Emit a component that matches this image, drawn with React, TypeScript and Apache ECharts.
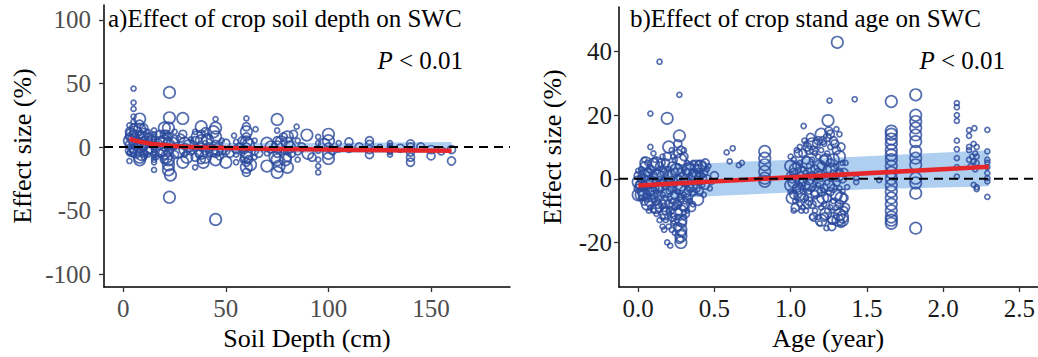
import React, { useEffect, useRef } from "react";
import * as echarts from "echarts";

const FONT = "'Liberation Serif', 'Times New Roman', Times, serif";

// ---------- Panel a: soil depth ----------
// [depth (cm), effect size (%), weight class]
const depthPoints: number[][] = [
  [3,17,1],[3,12,2],[3,8,2],[3,5,3],[3,2,2],[3,0,1],[3,-3,2],[3,-5,1],[3,-11,1],
  [5,46,1],[5,35,1],[5,30,1],[5,24,1],[5,20,1],[5,15,2],[5,10,2],[5,6,3],[5,2,2],[5,-2,2],[5,-6,1],
  [8,22,3],[8,18,2],[8,14,3],[8,10,2],[8,7,3],[8,4,2],[8,0,3],[8,-4,2],[8,-8,3],[8,-10,3],
  [10,15,2],[10,10,3],[10,5,2],[10,0,2],[10,-5,2],[10,-8,1],
  [12,12,1],[12,8,2],[12,3,1],[12,-3,2],[12,-6,1],
  [15,13,1],[15,10,1],[15,8,1],[15,6,1],[15,4,1],[15,2,1],[15,0,1],[15,-2,1],[15,-4,1],[15,-6,1],[15,-8,1],[15,-10,1],[15,-12,1],[15,-18,1],
  [18,10,2],[18,5,2],[18,0,1],[18,-5,2],
  [20,15,3],[20,10,2],[20,5,3],[20,0,2],[20,-5,3],[20,-10,2],
  [22.5,43,3],[22.5,23,3],[22,15,3],[22,8,2],[22,2,3],[22,-4,2],[22,-10,3],[22,-14,3],[22,-18,3],[22.5,-39.5,3],
  [25,12,1],[25,6,2],[25,0,1],[25,-6,2],
  [29,22.5,3],[29,10,2],[30,3,3],[30,-2,3],[29,-12,3],[30,-6,1],
  [33,6,1],[33,-3,2],
  [35,12,1],[35,5,2],[35,-2,1],[35,-8,2],[35,-16,1],
  [38,16,3],[38,10,2],[38,5,3],[38,0,2],[38,-5,3],[38,-10,2],
  [40,12,2],[40,3,1],[40,-3,2],[40,-8,3],
  [42,8,1],[42,0,2],[42,-6,1],
  [45,22,1],[45,15,3],[45,8,3],[45,2,2],[45,-5,2],[45,-10,3],[45,-57,3],
  [48,5,1],[48,-3,2],
  [50,3,2],[50,-3,2],[50,-12,3],
  [54,9,1],[55,4,1],[55,-2,2],[55,-6,1],[55,-12,1],
  [58,5,2],[58,-5,1],[58,-10,1],
  [60,22.5,1],[60,16,2],[60,12,3],[60,8,2],[60,4,3],[60,0,2],[60,-4,3],[60,-8,3],[60,-12,2],[60,-16,3],[60,-20,2],
  [64.5,14,1],[64,5,1],[64,-3,2],[64,-8,1],
  [70,3,3],[70,-5,1],[70,-15,3],
  [75,21.7,3],[75,13,1],[75,5,2],[75,0,3],[75,-5,2],[75,-10,3],[75,-20,3],
  [78,8,2],[78,-3,1],
  [80,8,3],[80,3,3],[80,-3,2],[80,-8,2],[80,-16,3],
  [84.5,16,1],[85,5,1],[85,-3,2],[85,-10,1],
  [89.5,9.4,3],[90,-5,3],
  [95,8,1],[95,3,1],[95,-3,1],[95,-10,1],[95,-15,1],[95,-20,1],
  [100,10,3],[100,5,3],[100,0,2],[100,-5,3],[100,-9,3],
  [105,3,1],[105,-2,1],
  [110,4,2],[110,-1,2],
  [120,5,2],[120,2,2],[120,-2,2],[120,-6,2],
  [125,0,1],
  [130,3,1],[130,1,1],[130,0,1],[130,-1,1],[130,-2,1],[130,-3,1],[130,-4,1],[130,-6,1],
  [140,2.5,2],[140,0,2],[140,-4,2],[140,-8,2],[140,-12,2],
  [150,-2,2],[150,-7,2],
  [160,-2,2],[160,-11,2],
  [4,10,3],[4,-4,2],[6,12,3],[6,-4,3],[7,3,3],[9,8,3],[9,-6,3],[11,4,3],[13,-2,2],[14,6,2],[16,-8,1],[17,3,2],
  [19,-2,3],[21,-8,3],[21,10,2],[23,-22,3],[24,3,3],[27,-4,3],[28,7,2],[31,-8,3],[32,1,3],[36,8,3],[37,-5,2],
  [39,-12,3],[41,6,3],[43,-3,3],[44,12,3],[46,-2,3],[47,-7,2],[52,-5,2],[57,0,2],[59,-2,2],[61,2,3],[61,-10,2],
  [62,-14,3],[66,-5,2],[72,0,3],[74,-8,3],[76,-15,3],[77,4,3],[79,-10,3],[81,0,3],[82,-5,2],[83,10,2],[87,0,2],
  [92,-8,2],[98,2,3],[102,-3,2],[115,0,2],[135,-1,2],[145,0,2],[155,-3,2],
];
const depthFitX = [3, 10, 20, 30, 50, 75, 100, 130, 160];
const depthFitY = [6.5, 3.5, 1.5, 0.3, -0.8, -1.5, -2.0, -2.6, -3.0];
const depthBandUpper = [9.5, 6.5, 4.5, 3.8, 3.2, 3.0, 3.2, 3.6, 4.0];
const depthBandLower = [3.0, 0.5, -1.5, -2.8, -4.0, -4.5, -4.6, -4.6, -4.6];
const depthTicksX = [0, 50, 100, 150];
const depthTicksY = [-100, -50, 0, 50, 100];

// ---------- Panel b: stand age ----------
// [age (year), effect size (%), weight class]
const agePoints: number[][] = [
  [0,1,2],[0,-1,3],[0,-3,2],[0,2.5,1],[0,-5,3],
  [0.02,3,1],[0.02,0,2],[0.02,-2,3],[0.02,-4,2],[0.02,-6,1],[0.02,-5,3],
  [0.04,4,2],[0.04,1,3],[0.04,-2,2],[0.04,-5,3],[0.04,-7,2],
  [0.06,5,1],[0.06,2,2],[0.06,-1,3],[0.06,-3,1],[0.06,-6,2],[0.06,-8,3],
  [0.08,10,1],[0.08,20.5,1],[0.08,3,2],[0.08,0,1],[0.08,-4,2],[0.08,-9,1],[0.08,-7,3],
  [0.1,4.6,3],[0.1,1,2],[0.1,-2,1],[0.1,-5,2],[0.1,-10,1],
  [0.12,5,3],[0.12,2,1],[0.12,-1,2],[0.12,-4,1],[0.12,-7,2],[0.12,-11,1],
  [0.14,36.8,1],[0.14,4,2],[0.14,0,1],[0.14,-3,2],[0.14,-6,1],[0.14,-9,2],[0.14,-13,1],
  [0.16,3,1],[0.16,-1,2],[0.16,-5,1],[0.16,-8,2],[0.16,-12,1],[0.16,-15,1],
  [0.18,5,2],[0.18,1,1],[0.18,-2,2],[0.18,-6,1],[0.18,-10,2],[0.18,-13,1],[0.19,-20,1],[0.19,19,3],
  [0.2,10,3],[0.2,3,1],[0.2,-1,2],[0.2,-4,1],[0.2,-8,2],[0.2,-11,1],[0.2,-15,1],[0.21,-21,1],
  [0.22,4,2],[0.22,0,1],[0.22,-3,2],[0.22,-7,1],[0.22,-12,2],[0.22,-16,1],
  [0.24,6,1],[0.24,2,2],[0.24,-2,1],[0.24,-5,2],[0.24,-9,1],[0.24,-13,2],[0.24,-17,1],
  [0.26,8,2],[0.26,4,1],[0.26,0,2],[0.26,-4,1],[0.26,-8,2],[0.26,-12,1],[0.26,-15,2],
  [0.27,13.5,3],[0.27,26.4,1],[0.28,9,2],[0.28,6,3],[0.28,2,2],[0.28,-2,3],[0.28,-6,2],[0.28,-10,3],[0.28,-13,3],[0.28,-16,3],[0.28,-18,3],[0.28,-20,3],
  [0.3,7,2],[0.3,3,1],[0.3,-1,2],[0.3,-5,1],[0.3,-9,2],[0.3,-12,1],
  [0.32,5,1],[0.32,2,2],[0.32,-2,1],[0.32,-6,2],[0.32,-10,1],
  [0.34,4,2],[0.34,1,1],[0.34,-3,2],[0.34,-7,1],
  [0.36,5,1],[0.36,2,2],[0.36,-1,1],[0.36,-4,2],[0.36,-8,1],
  [0.38,4,3],[0.38,0,1],[0.38,-3,2],[0.39,-6.5,3],
  [0.4,5,1],[0.4,2,2],[0.4,-1,1],[0.4,-4,2],
  [0.42,4,2],[0.42,1,1],[0.42,-2,1],
  [0.45,3,1],[0.45,0,2],[0.47,-3,1],[0.5,1,2],
  [0.01,-2,2],[0.03,1,1],[0.05,-4,1],[0.07,2,2],[0.09,-1,3],[0.11,-3,2],[0.13,1,3],[0.15,-2,3],[0.17,2,2],
  [0.19,-4,3],[0.21,1,3],[0.23,-6,3],[0.25,3,3],[0.27,-3,3],[0.29,0,3],[0.31,-4,3],[0.33,3,3],[0.35,-2,3],
  [0.37,1,3],[0.39,3,2],[0.41,0,3],[0.43,-5,1],[0.44,5,2],
  [0.05,5,3],[0.09,-6,2],[0.11,6,1],[0.13,-8,2],[0.15,5,2],[0.17,-9,2],[0.19,7,2],[0.21,-10,2],[0.23,7,1],
  [0.25,-11,3],[0.27,-7,2],[0.29,-14,2],[0.29,-17,2],[0.27,-19,2],[0.3,-8,3],[0.31,-11,2],[0.33,-7,1],[0.35,-9,2],
  [0.12,-9,3],[0.07,-10,1],[0.17,-16,1],[0.23,-14,1],[0.18,-11,3],[0.24,-8,3],[0.3,9,1],[0.26,11,2],[0.22,9,1],
  [0.16,7,1],[0.1,8,1],[0.04,6,1],[0.41,4,3],[0.43,2,2],[0.46,4,1],[0.48,-1,1],[0.44,-2,2],
  [0.58,8.3,1],[0.62,9.6,1],[0.6,5.5,1],[0.66,4.3,1],[0.68,5,1],
  [0.83,8.6,3],[0.83,6.5,3],[0.83,4.4,3],[0.83,2.3,3],[0.83,0.2,3],[0.83,-0.8,3],
  [1.0,4,3],[1.0,1,2],[1.0,-2,3],[1.0,-4,1],
  [1.02,6,1],[1.02,2,2],[1.02,-1,3],[1.02,-5,2],[1.03,-7,1],
  [1.04,9,1],[1.04,4,2],[1.04,0,1],[1.04,-3,2],[1.04,-6,1],
  [1.06,10,1],[1.06,5,1],[1.06,1,2],[1.06,-2,1],[1.06,-5,3],[1.06,-8,1],
  [1.085,16.6,1],[1.08,8,2],[1.08,3,1],[1.08,-1,2],[1.08,-4,1],[1.08,-9,1],
  [1.1,11,1],[1.1,6,2],[1.1,2,1],[1.1,-2,2],[1.1,-6,1],[1.1,-10,1],
  [1.12,9,2],[1.12,4,1],[1.12,0,3],[1.12,-4,1],[1.12,-7,2],
  [1.14,11,3],[1.14,6,1],[1.14,1,2],[1.14,-3,1],[1.14,-8,2],[1.14,-12,1],
  [1.16,8,1],[1.16,3,2],[1.16,-1,1],[1.16,-5,2],[1.16,-10,1],
  [1.18,12,2],[1.18,7,1],[1.18,2,2],[1.18,-2,1],[1.18,-7,3],[1.18,-12,1],
  [1.2,14,3],[1.2,9,1],[1.2,4,2],[1.2,0,1],[1.2,-4,2],[1.2,-9,1],[1.2,-13,3],
  [1.22,11,1],[1.22,6,2],[1.22,1,1],[1.22,-3,2],[1.22,-8,1],[1.22,-12,2],
  [1.245,18.3,3],[1.255,24.6,1],[1.24,13,2],[1.24,8,1],[1.24,3,2],[1.24,-1,1],[1.24,-6,2],[1.24,-10,1],[1.235,-15.5,1],
  [1.26,10,1],[1.26,5,2],[1.26,0,1],[1.26,-4,2],[1.26,-9,1],[1.28,-12.4,3],
  [1.28,12,2],[1.28,6,3],[1.28,2,1],[1.28,-3,2],[1.28,-7,1],
  [1.306,42.9,3],[1.3,15.6,1],[1.3,9,2],[1.3,4,1],[1.3,-1,2],[1.3,-5,3],[1.3,-9,1],
  [1.32,14,1],[1.32,7,3],[1.32,2,2],[1.32,-3,1],[1.32,-11.3,3],[1.32,-8,2],
  [1.34,5,1],[1.34,0,2],[1.34,-4,1],[1.35,-6,2],[1.34,-13,3],
  [1.01,0,2],[1.03,3,3],[1.05,-3,3],[1.07,2,3],[1.09,-6,2],[1.11,5,3],[1.13,-2,3],[1.15,9,2],[1.17,-4,3],
  [1.19,4,3],[1.21,-6,3],[1.23,6,3],[1.25,-2,3],[1.27,3,3],[1.29,-8,3],[1.31,1,3],[1.33,-6,3],[1.35,2,2],
  [1.36,-9,2],[1.36,5,1],[1.03,-9,2],[1.05,8,2],[1.07,-10,1],[1.09,12,1],[1.11,-8,2],[1.13,13,2],[1.15,-12,2],
  [1.17,11,2],[1.19,-14,1],[1.21,12,2],[1.23,-11,3],[1.25,15,2],[1.27,-13,2],[1.29,11,2],[1.31,-13,3],[1.33,10,2],
  [1.35,-10,2],[1.34,-12,3],[1.33,-14,2],[1.27,-15,2],[1.26,14,2],[1.11,10,2],[1.01,-6,3],[1.0,7,1],[1.02,-10,1],
  [1.37,-2.6,1],[1.42,25,1],[1.43,0.2,1],[1.43,-1,1],[1.58,-0.4,1],
  [1.66,24.3,3],[1.66,15,3],[1.66,14,3],[1.66,12.5,3],[1.66,11,3],[1.66,9,3],[1.66,7.5,3],[1.66,6,3],[1.66,4,3],[1.66,2,3],[1.66,0,3],[1.66,-2,3],[1.66,-4,3],[1.66,-6,3],[1.66,-8,3],[1.66,-10,3],[1.66,-12,3],[1.66,-13,3],[1.66,-14,3],
  [1.82,26.4,3],[1.82,20,3],[1.82,18,3],[1.82,16,3],[1.82,13.8,3],[1.82,11.7,3],[1.82,8.6,3],[1.82,6.5,3],[1.82,4.4,3],[1.82,0.2,3],[1.82,-1.3,3],[1.82,-4.5,3],[1.82,-15.5,3],
  [2.09,23.8,1],[2.09,22.5,1],[2.09,20,1],[2.09,18.2,1],[2.09,12,1],[2.09,9.3,1],[2.09,6.5,1],[2.09,3.7,1],[2.09,0.7,1],
  [2.17,15.3,1],[2.205,15.9,1],[2.17,13.5,1],[2.17,10,1],[2.2,11,1],[2.22,10,1],[2.17,9,1],[2.21,8,1],[2.19,7,1],[2.22,7,1],[2.17,6,1],[2.2,5.5,1],[2.22,5,1],[2.18,4,1],[2.21,3,1],[2.2,-1.9,1],[2.22,-2.6,1],[2.22,-3.2,1],
  [2.29,15.4,1],[2.29,8.6,1],[2.29,6,1],[2.29,5.1,1],[2.29,3.7,1],[2.29,1.8,1],[2.29,0.2,1],[2.29,-0.8,1],[2.29,-5.7,1],
];
const ageFitX = [0, 2.3];
const ageFitY = [-2.1, 3.8];
const ageBandX = [0, 0.5, 1.0, 1.5, 2.0, 2.3];
const ageBandUpper = [3.8, 5.0, 6.0, 7.1, 8.3, 9.0];
const ageBandLower = [-6.8, -5.4, -4.3, -3.3, -2.7, -2.3];
const ageTicksX = [0, 0.5, 1.0, 1.5, 2.0, 2.5];
const ageTicksY = [-20, 0, 20, 40];

const BLUE = "#2A4A9C";
const BAND = "#AFCFF0";
const RED = "#E5262B";

const sizeOf = (w: number) => [0, 5, 8, 11.5][w] || 5;

function bandSeries(gi: number, xs: number[], up: number[], lo: number[]) {
  return {
    type: "custom",
    xAxisIndex: gi,
    yAxisIndex: gi,
    silent: true,
    z: 1,
    data: [[xs[0], up[0]]],
    renderItem: (_p: any, api: any) => {
      const pts: number[][] = [];
      for (let i = 0; i < xs.length; i++) pts.push(api.coord([xs[i], up[i]]));
      for (let i = xs.length - 1; i >= 0; i--) pts.push(api.coord([xs[i], lo[i]]));
      return { type: "polygon", shape: { points: pts }, style: { fill: BAND } };
    },
  };
}

function axisX(gi: number, min: number, max: number, ticks: number[], name: string, labelColor: string, fmt?: (v: number) => string) {
  return {
    gridIndex: gi,
    type: "value",
    min,
    max,
    name,
    nameLocation: "middle",
    nameGap: 37,
    nameTextStyle: { fontSize: 26, color: "#000", fontFamily: FONT },
    axisLine: { show: true, onZero: false, lineStyle: { color: "#000", width: 1.5 } },
    axisTick: { show: true, length: 5, customValues: ticks, lineStyle: { color: "#333", width: 1.3 } },
    axisLabel: {
      customValues: ticks,
      color: labelColor,
      fontSize: 25,
      fontFamily: FONT,
      margin: 9,
      formatter: fmt ? (v: number) => fmt(v) : undefined,
    },
    splitLine: { show: false },
  };
}

function axisY(gi: number, min: number, max: number, ticks: number[], labelColor: string, nameGap: number, margin: number) {
  return {
    gridIndex: gi,
    type: "value",
    min,
    max,
    name: "Effect size (%)",
    nameLocation: "middle",
    nameRotate: 90,
    nameGap,
    nameTextStyle: { fontSize: 26, color: "#000", fontFamily: FONT },
    axisLine: { show: true, onZero: false, lineStyle: { color: "#000", width: 1.5 } },
    axisTick: { show: true, length: 5, customValues: ticks, lineStyle: { color: "#333", width: 1.3 } },
    axisLabel: { customValues: ticks, color: labelColor, fontSize: 25, fontFamily: FONT, margin },
    splitLine: { show: false },
  };
}

export default function App() {
  const ref = useRef<HTMLDivElement>(null);

  useEffect(() => {
    document.body.style.margin = "0";
    if (!ref.current) return;
    const chart = echarts.init(ref.current, null, { renderer: "svg" });

    const depthXMin = -9.4, depthXMax = 188.5;
    const ageXMin = -0.126, ageXMax = 2.618;

    const scatterStyle = { color: "rgba(0,0,0,0)", borderColor: BLUE, borderWidth: 1.7 };

    const option: any = {
      animation: false,
      backgroundColor: "#fff",
      grid: [
        { left: 104, top: 5, width: 406, height: 282 },
        { left: 619, top: 7, width: 419, height: 280 },
      ],
      xAxis: [
        axisX(0, depthXMin, depthXMax, depthTicksX, "Soil Depth (cm)", "#4d4d4d"),
        axisX(1, ageXMin, ageXMax, ageTicksX, "Age (year)", "#1a1a1a", (v) => v.toFixed(1)),
      ],
      yAxis: [
        axisY(0, -110.2, 111.8, depthTicksY, "#4d4d4d", 69, 13),
        axisY(1, -34, 54, ageTicksY, "#1a1a1a", 54, 7),
      ],
      series: [
        bandSeries(0, depthFitX, depthBandUpper, depthBandLower),
        bandSeries(1, ageBandX, ageBandUpper, ageBandLower),
        {
          type: "scatter",
          xAxisIndex: 0,
          yAxisIndex: 0,
          z: 2,
          data: depthPoints,
          symbolSize: (v: number[]) => sizeOf(v[2]),
          itemStyle: scatterStyle,
        },
        {
          type: "scatter",
          xAxisIndex: 1,
          yAxisIndex: 1,
          z: 2,
          data: agePoints,
          symbolSize: (v: number[]) => sizeOf(v[2]),
          itemStyle: scatterStyle,
        },
        {
          type: "line",
          xAxisIndex: 0,
          yAxisIndex: 0,
          z: 3,
          smooth: true,
          symbol: "none",
          data: depthFitX.map((x, i) => [x, depthFitY[i]]),
          lineStyle: { color: RED, width: 4.5 },
        },
        {
          type: "line",
          xAxisIndex: 1,
          yAxisIndex: 1,
          z: 3,
          symbol: "none",
          data: ageFitX.map((x, i) => [x, ageFitY[i]]),
          lineStyle: { color: RED, width: 4.5 },
        },
        {
          type: "line",
          xAxisIndex: 0,
          yAxisIndex: 0,
          z: 4,
          symbol: "none",
          data: [[depthXMin, 0], [depthXMax, 0]],
          lineStyle: { color: "#000", width: 2, type: [9, 6] },
        },
        {
          type: "line",
          xAxisIndex: 1,
          yAxisIndex: 1,
          z: 4,
          symbol: "none",
          data: [[ageXMin, 0], [ageXMax, 0]],
          lineStyle: { color: "#000", width: 2, type: [9, 6] },
        },
      ],
      graphic: [
        {
          type: "text",
          left: 108,
          top: 6,
          style: { text: "a)Effect of crop soil depth on SWC", fontSize: 25, fontFamily: FONT, fill: "#000" },
        },
        {
          type: "text",
          left: 630,
          top: 6,
          style: { text: "b)Effect of crop stand age on SWC", fontSize: 25, fontFamily: FONT, fill: "#000" },
        },
        {
          type: "text",
          right: 1038 - 463,
          top: 48,
          style: {
            text: "{i|P} < 0.01",
            fontSize: 25,
            fontFamily: FONT,
            fill: "#000",
            rich: { i: { fontStyle: "italic", fontSize: 25, fontFamily: FONT, fill: "#000" } },
          },
        },
        {
          type: "text",
          right: 1038 - 1005,
          top: 48,
          style: {
            text: "{i|P} < 0.01",
            fontSize: 25,
            fontFamily: FONT,
            fill: "#000",
            rich: { i: { fontStyle: "italic", fontSize: 25, fontFamily: FONT, fill: "#000" } },
          },
        },
      ],
    };

    chart.setOption(option);
    return () => chart.dispose();
  }, []);

  return <div ref={ref} style={{ width: 1038, height: 357 }} />;
}
